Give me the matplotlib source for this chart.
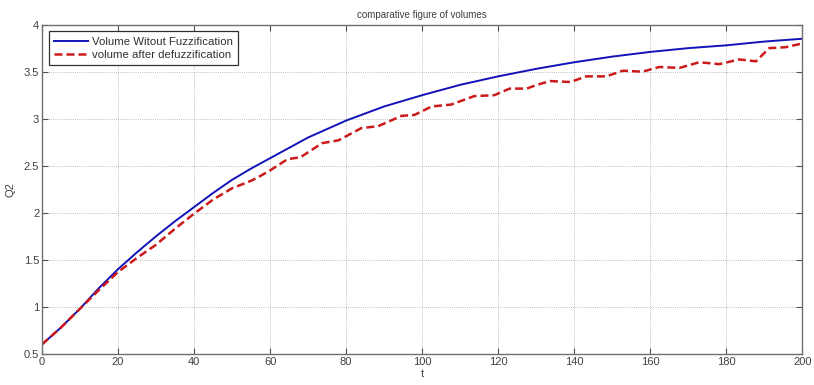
import numpy as np
import matplotlib
matplotlib.use("Agg")
from matplotlib import pyplot as plt

# volume without fuzzification (smooth curve)
t_plain = [0, 5, 10, 15, 20, 25, 30, 35, 40, 45, 50, 55, 60, 65, 70, 75, 80, 90, 100,
           110, 120, 130, 140, 150, 160, 170, 180, 190, 200]
q_plain = [0.60, 0.78, 0.98, 1.20, 1.40, 1.58, 1.75, 1.91, 2.06, 2.21, 2.35, 2.47, 2.58,
           2.69, 2.80, 2.89, 2.98, 3.13, 3.25, 3.36, 3.45, 3.53, 3.60, 3.66, 3.71, 3.75,
           3.78, 3.82, 3.85]

# volume after defuzzification (stepped curve)
t_defuzz = [0, 5, 10, 15, 20, 25, 30, 35, 40, 45, 50, 55, 57.4, 60, 64.6, 68, 73.7, 78,
            84, 88.4, 94.6, 98, 102.5, 107.6, 113.7, 119, 123, 127.5, 130.2, 133.7, 139,
            143.2, 148.4, 152.8, 158, 162.4, 167.7, 172.9, 178.2, 183.4, 187.8, 191.3,
            195.6, 200]
q_defuzz = [0.60, 0.78, 0.98, 1.18, 1.37, 1.52, 1.66, 1.83, 1.99, 2.14, 2.26, 2.34, 2.39,
            2.45, 2.57, 2.59, 2.74, 2.77, 2.90, 2.92, 3.03, 3.04, 3.13, 3.15, 3.24, 3.25,
            3.32, 3.32, 3.36, 3.40, 3.39, 3.45, 3.45, 3.51, 3.50, 3.55, 3.54, 3.60, 3.58,
            3.63, 3.61, 3.75, 3.76, 3.80]

x_ticks = [0, 20, 40, 60, 80, 100, 120, 140, 160, 180, 200]
y_ticks = [0.5, 1, 1.5, 2, 2.5, 3, 3.5, 4]
y_labels = ['0.5', '1', '1.5', '2', '2.5', '3', '3.5', '4']

plt.rcParams['font.family'] = ['Liberation Sans', 'DejaVu Sans']
txt = '#404040'

fig = plt.figure(figsize=(8.14, 3.85), dpi=100)
ax = fig.add_axes([0.0516, 0.081, 0.934, 0.855])

ax.plot(t_plain, q_plain, color='#1212b8', lw=1.4, label='Volume Witout Fuzzification')
ax.plot(t_defuzz, q_defuzz, color='#cc1a1a', lw=1.8, ls=(0, (3.2, 1.6)),
        label='volume after defuzzification')

ax.set_xlim(0, 200)
ax.set_ylim(0.5, 4)
ax.set_xticks(x_ticks)
ax.set_yticks(y_ticks)
ax.set_yticklabels(y_labels)
ax.grid(True, color='#a8a8a8', ls=(0, (1, 1.6)), lw=0.6)
ax.tick_params(direction='in', top=True, right=True, length=4, width=0.8,
               labelsize=8, labelcolor=txt, color='#505050', pad=2)
for s in ax.spines.values():
    s.set_color('#707070')
    s.set_linewidth(1.0)

ax.set_title('comparative figure of volumes', fontsize=7, color=txt, pad=5)
ax.set_xlabel('t', fontsize=8, color=txt, labelpad=2)
ax.set_ylabel('Q2', fontsize=8, color=txt, labelpad=6)

leg = ax.legend(loc='upper left', fontsize=8.2, fancybox=False, framealpha=1,
                edgecolor='#303030', handlelength=3.0, borderaxespad=0.6,
                borderpad=0.45, labelspacing=0.3, handletextpad=0.3)
leg.get_frame().set_linewidth(0.9)
for t in leg.get_texts():
    t.set_color('#303030')

fig.savefig('out.png', dpi=100)
